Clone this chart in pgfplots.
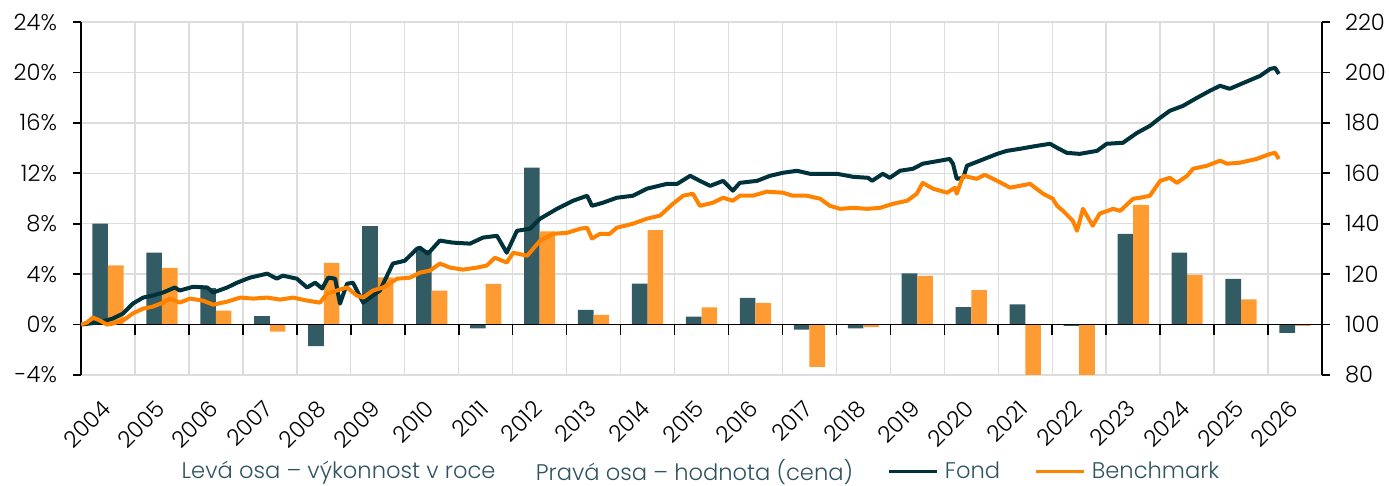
\documentclass[border=0pt]{standalone}
\usepackage{pgfplots}
\pgfplotsset{compat=1.18}
\usepackage{fontspec}
\setmainfont{Poppins Light}
\definecolor{fond}{RGB}{0,50,60}
\definecolor{fondbar}{RGB}{51,91,99}
\definecolor{bench}{RGB}{255,130,0}
\definecolor{benchbar}{RGB}{255,155,51}
\definecolor{gridc}{RGB}{221,221,221}
\definecolor{legtext}{RGB}{47,84,95}
\begin{document}
\begin{tikzpicture}
\begin{axis}[
  name=ax1,
  scale only axis, width=620.5pt, height=176.5pt,
  xmin=0, xmax=23, ymin=-4, ymax=24,
  axis y line*=left, axis x line*=bottom,
  x axis line style={draw=none},
  y axis line style={black, line width=0.8pt},
  ytick={-4,0,4,8,12,16,20,24},
  yticklabels={-4\%,0\%,4\%,8\%,12\%,16\%,20\%,24\%},
  xtick={0.5,1.5,...,22.5},
  xticklabels={2004,2005,2006,2007,2008,2009,2010,2011,2012,2013,2014,2015,2016,2017,2018,2019,2020,2021,2022,2023,2024,2025,2026},
  minor xtick={1,2,...,22},
  xmajorgrids=false, xminorgrids=true, ymajorgrids=true,
  grid style={gridc, line width=0.7pt},
  minor grid style={gridc, line width=0.7pt},
  major x tick style={draw=none}, minor x tick style={draw=none},
  ytick style={black, line width=0.8pt},
  tick align=outside, major tick length=4pt,
  tick label style={font=\fontsize{11.3}{13}\selectfont, text=black},
  yticklabel style={xshift=-4.5pt},
  xticklabel style={yshift=-10pt, rotate=45, anchor=east, inner sep=1pt},
  ybar, bar width=7.8pt,
]
\addplot[fill=fondbar, draw=none, bar shift=-3.9pt] coordinates {
(0.5,8.0) (1.5,5.7) (2.5,2.9) (3.5,0.66) (4.5,-1.7) (5.5,7.8)
(6.5,5.9) (7.5,-0.3) (8.5,12.45) (9.5,1.17) (10.5,3.25) (11.5,0.64)
(12.5,2.12) (13.5,-0.4) (14.5,-0.3) (15.5,4.07) (16.5,1.38) (17.5,1.6)
(18.5,-0.1) (19.5,7.2) (20.5,5.7) (21.5,3.62) (22.5,-0.66)};
\addplot[fill=benchbar, draw=none, bar shift=3.9pt] coordinates {
(0.5,4.7) (1.5,4.5) (2.5,1.1) (3.5,-0.55) (4.5,4.9) (5.5,3.75)
(6.5,2.7) (7.5,3.22) (8.5,7.4) (9.5,0.77) (10.5,7.5) (11.5,1.37)
(12.5,1.72) (13.5,-3.35) (14.5,-0.2) (15.5,3.87) (16.5,2.74) (17.5,-5.3)
(18.5,-6.0) (19.5,9.5) (20.5,3.95) (21.5,2.0) (22.5,-0.1)};
\draw[black, line width=0.8pt] (axis cs:0,0) -- (axis cs:23,0);
\pgfplotsinvokeforeach{1,2,...,22}{
  \draw[black, line width=0.8pt] (axis cs:#1,0) -- (axis cs:#1,-0.8);
}
\end{axis}
\begin{axis}[
  scale only axis, width=620.5pt, height=176.5pt,
  xmin=0, xmax=23, ymin=80, ymax=220,
  axis y line*=right, axis x line=none,
  y axis line style={black, line width=0.8pt},
  ytick={80,100,120,140,160,180,200,220},
  yticklabels={80,100,120,140,160,180,200,220},
  ytick style={black, line width=0.8pt},
  tick align=outside, major tick length=4pt,
  tick label style={font=\fontsize{11.3}{13}\selectfont, text=black},
  yticklabel style={xshift=4pt},
  legend style={at={(0.4968,-0.274)}, anchor=center, legend columns=4,
    draw=none, fill=none, font=\fontsize{11.3}{13}\selectfont, text=legtext,
    nodes={inner xsep=0pt, inner ysep=1pt},
    /tikz/every odd column/.append style={column sep=3pt},
    /tikz/every even column/.append style={column sep=17.2pt}},
  legend image code/.code={\draw[#1, line width=1.7pt] (0pt,0pt) -- (24pt,0pt);},
]
\addlegendimage{empty legend}
\addlegendimage{empty legend}
\addplot[fond, line width=2pt, line join=round] coordinates {
(0.00,100.0) (0.35,100.9) (0.59,102.4) (0.78,104.4) (0.96,108.3)
(1.15,110.7) (1.33,111.5) (1.52,112.7) (1.74,114.7) (1.83,113.5)
(2.08,115.0) (2.34,114.7) (2.45,112.7) (2.71,114.7) (2.89,116.6)
(3.13,118.6) (3.45,120.2) (3.63,118.2) (3.74,119.4) (4.00,118.2)
(4.19,114.7) (4.34,116.6) (4.47,114.3) (4.58,118.6) (4.71,118.2)
(4.80,108.3) (4.93,116.2) (5.04,116.6) (5.23,108.7) (5.41,111.5)
(5.54,113.5) (5.78,124.2) (6.00,125.3) (6.23,130.1) (6.28,130.5)
(6.43,128.1) (6.65,133.3) (6.89,132.5) (7.21,132.1) (7.45,134.5)
(7.71,135.2) (7.89,128.5) (8.08,137.2) (8.32,138.0) (8.51,142.0)
(8.82,145.9) (9.12,149.1) (9.38,151.1) (9.47,147.1) (9.67,148.3)
(9.93,150.3) (10.23,151.1) (10.49,153.9) (10.86,155.8) (11.05,155.8)
(11.29,159.0) (11.47,157.0) (11.66,155.0) (11.90,157.0) (12.08,153.1)
(12.21,156.2) (12.53,157.0) (12.77,159.0) (13.01,160.2) (13.27,161.0)
(13.51,159.8) (13.75,159.8) (14.01,159.8) (14.31,158.6) (14.59,158.2)
(14.66,157.0) (14.86,159.8) (14.99,158.2) (15.18,161.0) (15.42,161.8)
(15.60,163.8) (15.92,165.0) (16.10,165.7) (16.16,163.8) (16.23,157.8)
(16.35,158.2) (16.42,163.0) (16.66,165.0) (16.98,167.7) (17.16,168.9)
(17.40,169.7) (17.72,170.9) (17.96,171.7) (18.09,170.1) (18.27,168.1)
(18.51,167.7) (18.83,168.9) (19.01,171.7) (19.31,172.1) (19.57,176.0)
(19.81,178.8) (20.00,182.0) (20.18,184.8) (20.42,186.7) (20.68,189.9)
(20.92,192.7) (21.11,194.7) (21.29,193.5) (21.54,195.8) (21.85,198.6)
(22.04,201.4) (22.13,201.8) (22.20,199.4)};
\addplot[bench, line width=2pt, line join=round] coordinates {
(0.00,100.0) (0.11,100.8) (0.22,102.8) (0.35,101.6) (0.48,100.0)
(0.59,100.4) (0.78,101.6) (0.96,104.4) (1.15,106.3) (1.33,107.1)
(1.52,108.7) (1.65,110.3) (1.83,108.7) (2.02,110.3) (2.26,109.5)
(2.45,107.9) (2.71,109.1) (2.95,110.7) (3.19,110.3) (3.45,110.7)
(3.69,109.9) (3.93,110.7) (4.19,109.5) (4.43,108.7) (4.56,112.3)
(4.74,113.5) (4.93,114.7) (5.11,111.5) (5.23,110.7) (5.41,113.5)
(5.60,114.7) (5.86,118.2) (6.10,118.6) (6.28,120.6) (6.47,121.4)
(6.65,124.2) (6.84,122.6) (7.08,121.8) (7.34,122.6) (7.52,123.4)
(7.67,126.5) (7.89,124.6) (8.01,128.5) (8.27,127.3) (8.51,133.3)
(8.75,136.0) (9.01,136.4) (9.25,138.0) (9.38,138.4) (9.47,134.1)
(9.62,136.0) (9.80,136.0) (9.93,138.4) (10.23,140.0) (10.49,142.0)
(10.73,143.2) (10.97,147.9) (11.16,151.1) (11.34,151.9) (11.47,147.1)
(11.71,148.3) (11.90,150.3) (12.08,149.1) (12.21,151.1) (12.45,151.1)
(12.71,152.7) (13.01,152.3) (13.19,151.1) (13.45,151.1) (13.70,149.9)
(13.88,147.1) (14.07,145.9) (14.31,146.3) (14.57,145.9) (14.81,146.3)
(15.05,147.9) (15.31,149.1) (15.49,151.9) (15.60,156.2) (15.79,153.9)
(16.05,152.3) (16.20,154.3) (16.23,151.9) (16.35,159.0) (16.60,157.8)
(16.75,159.4) (16.98,157.0) (17.22,154.3) (17.59,155.8) (17.83,151.9)
(18.01,149.9) (18.09,147.1) (18.20,145.1) (18.38,141.2) (18.46,137.2)
(18.57,145.9) (18.75,139.2) (18.88,144.0) (19.13,145.9) (19.26,145.1)
(19.50,149.9) (19.63,150.3) (19.81,151.1) (20.00,157.0) (20.18,158.2)
(20.31,156.2) (20.50,159.0) (20.61,161.8) (20.87,163.0) (21.11,165.0)
(21.24,163.8) (21.48,164.2) (21.79,165.7) (22.04,167.7) (22.13,168.1)
(22.20,165.7)};
\legend{Levá osa – výkonnost v roce, Pravá osa – hodnota (cena), Fond, Benchmark}
\end{axis}
\pgfresetboundingbox
\path ([xshift=-40.5pt,yshift=-55.5pt]ax1.south west) rectangle ([xshift=33.5pt,yshift=11pt]ax1.north east);
\end{tikzpicture}
\end{document}
